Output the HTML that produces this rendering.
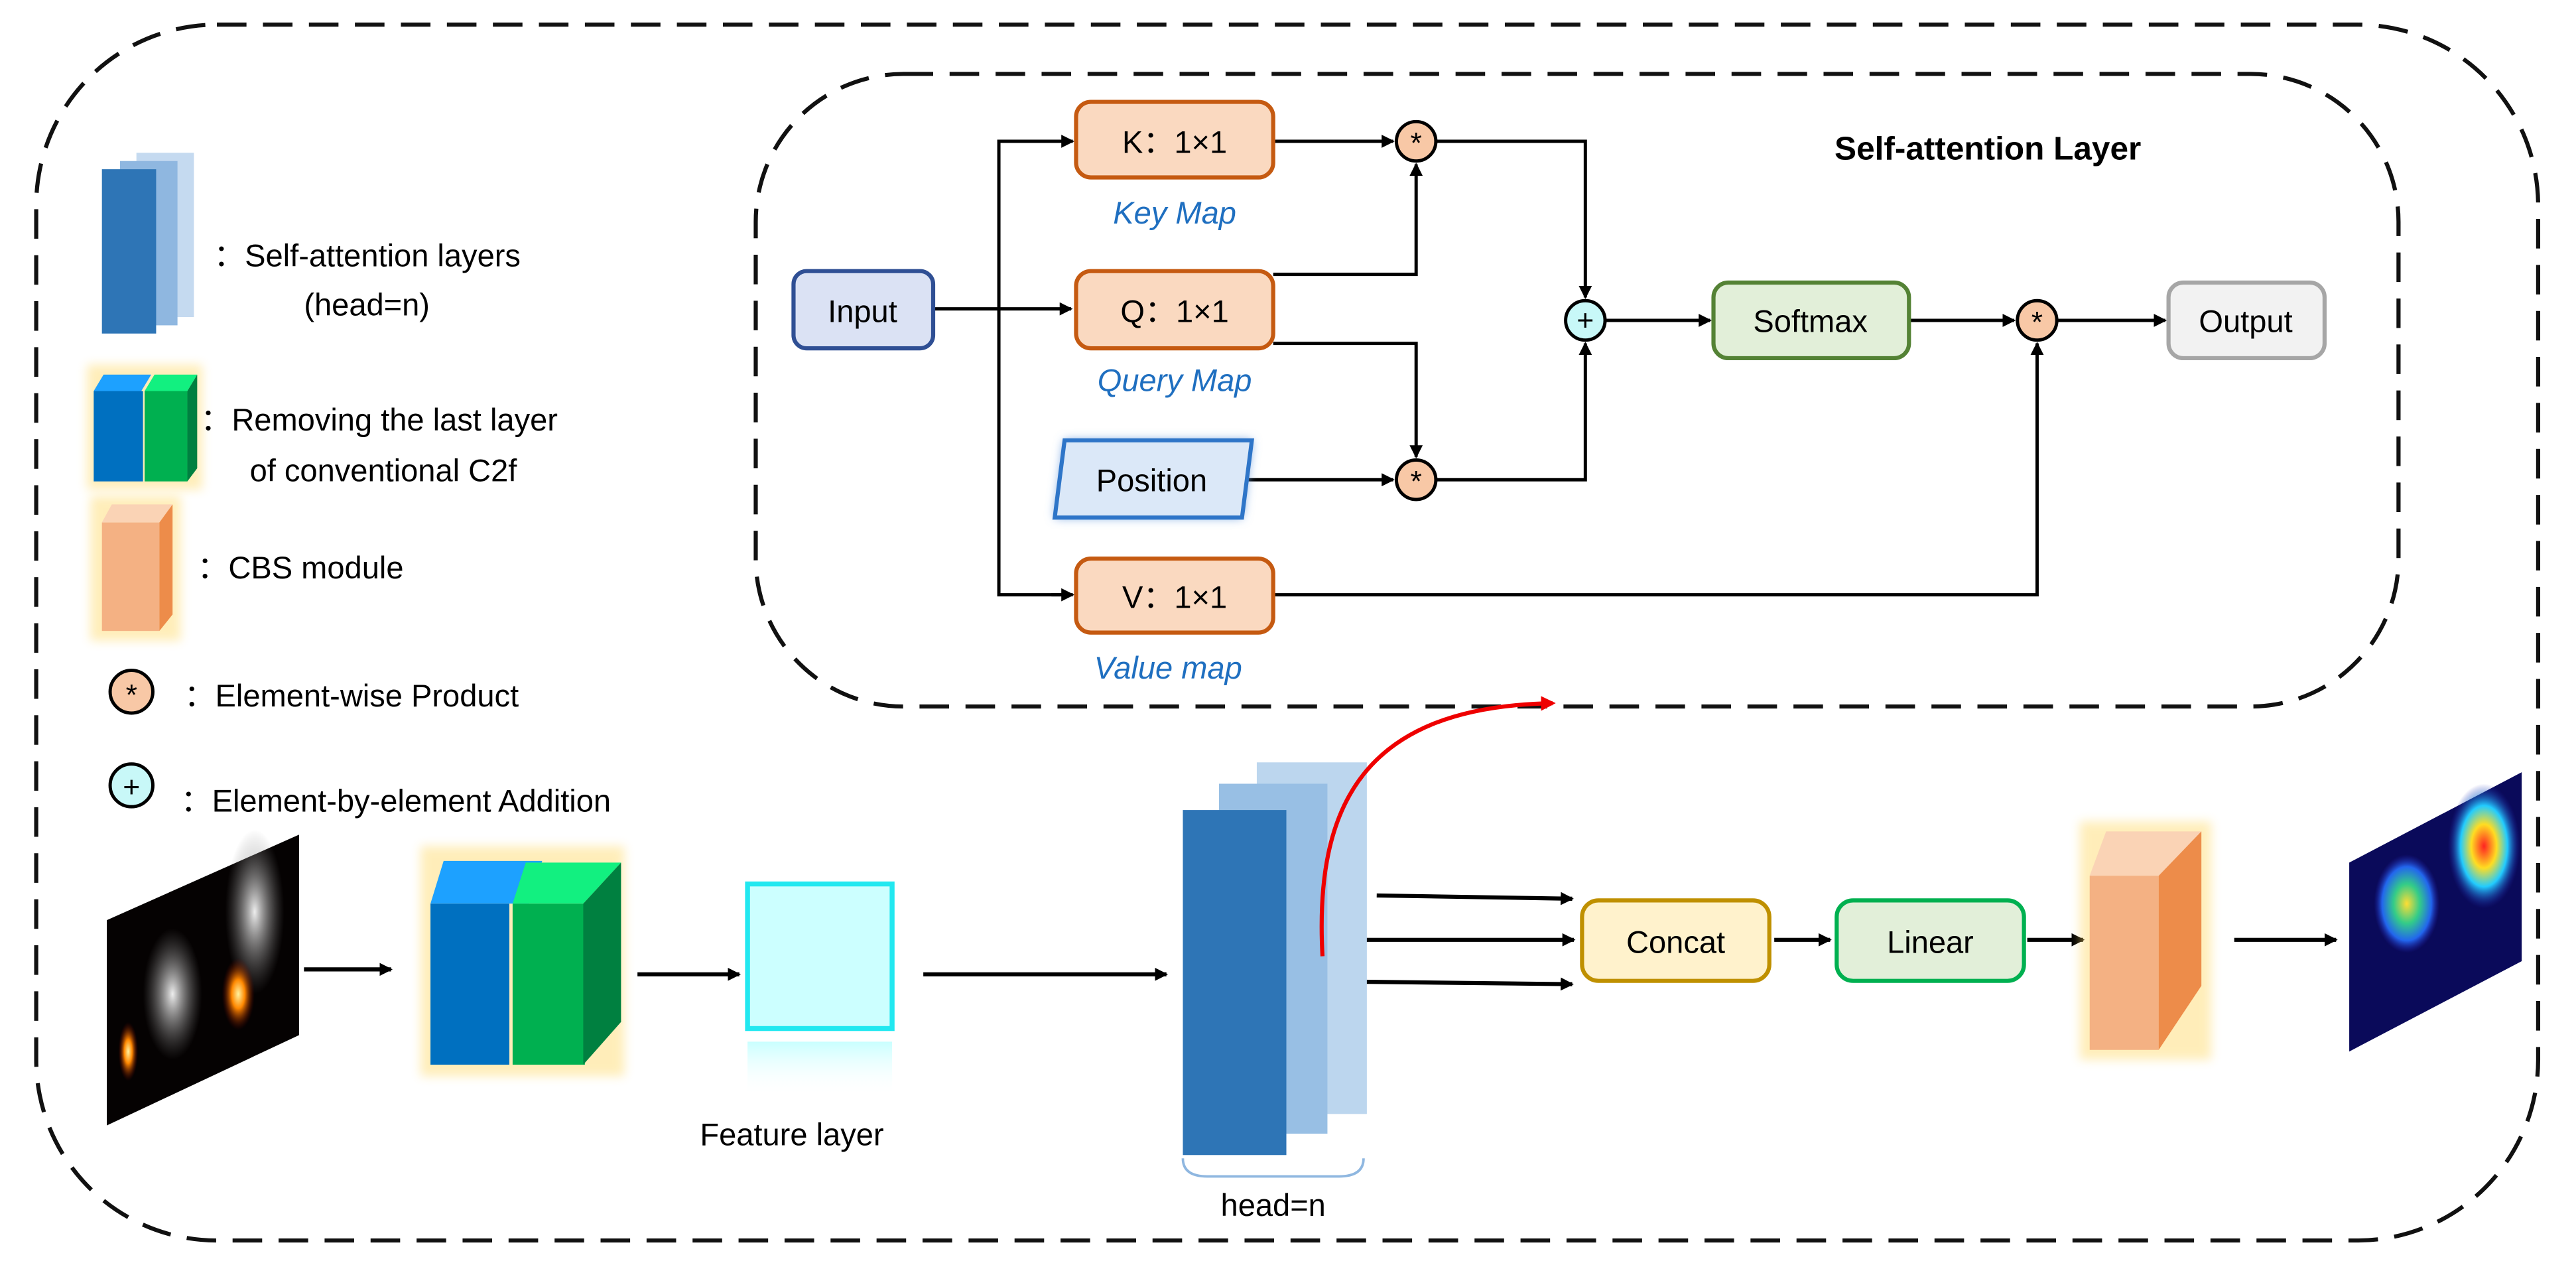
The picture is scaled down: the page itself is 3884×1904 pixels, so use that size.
<!DOCTYPE html>
<html><head><meta charset="utf-8"><style>html,body{margin:0;padding:0;background:#fff}svg{display:block}text{font-family:"Liberation Sans",Arial,sans-serif}</style></head>
<body>
<svg width="3884" height="1904" viewBox="0 0 1568 768.7" xmlns="http://www.w3.org/2000/svg">
<defs>
<marker id="a" markerWidth="8" markerHeight="8" refX="7" refY="4" orient="auto" markerUnits="userSpaceOnUse"><path d="M0,0 L8,4 L0,8 Z" fill="#000"/></marker>
<marker id="r" markerWidth="9" markerHeight="9" refX="7" refY="4.5" orient="auto" markerUnits="userSpaceOnUse"><path d="M0,0 L9,4.5 L0,9 Z" fill="#e00"/></marker>
<filter id="g" x="-30%" y="-30%" width="160%" height="160%"><feGaussianBlur stdDeviation="3"/></filter>
<linearGradient id="refl" x1="0" y1="0" x2="0" y2="1"><stop offset="0" stop-color="#bff" stop-opacity="0.8"/><stop offset="1" stop-color="#fff" stop-opacity="0"/></linearGradient>
<radialGradient id="hm1" cx="0.5" cy="0.5" r="0.5"><stop offset="0" stop-color="#f22"/><stop offset="0.35" stop-color="#fd2"/><stop offset="0.65" stop-color="#2cf"/><stop offset="1" stop-color="#22a" stop-opacity="0"/></radialGradient>
<radialGradient id="hm2" cx="0.5" cy="0.5" r="0.5"><stop offset="0" stop-color="#fd3"/><stop offset="0.4" stop-color="#3c8"/><stop offset="0.75" stop-color="#26e"/><stop offset="1" stop-color="#22a" stop-opacity="0"/></radialGradient>
<radialGradient id="smk" cx="0.5" cy="0.5" r="0.5"><stop offset="0" stop-color="#eee"/><stop offset="1" stop-color="#777" stop-opacity="0"/></radialGradient>
<radialGradient id="fir" cx="0.5" cy="0.5" r="0.5"><stop offset="0" stop-color="#fff2a0"/><stop offset="0.4" stop-color="#f80"/><stop offset="1" stop-color="#600" stop-opacity="0"/></radialGradient>
</defs>

<rect x="22" y="15" width="1523" height="740" rx="110" fill="none" stroke="#111" stroke-width="2.5" stroke-dasharray="18,10"/>
<rect x="460" y="45" width="1000" height="385" rx="90" fill="none" stroke="#111" stroke-width="2.5" stroke-dasharray="18,10"/>

<text x="1210" y="97" font-size="20" font-weight="bold" text-anchor="middle">Self-attention Layer</text>

<g stroke="#000" stroke-width="2" fill="none">
<line x1="568" y1="188" x2="652" y2="188" marker-end="url(#a)"/>
<polyline points="652,86 608,86 608,362 652,362" />
<line x1="640" y1="86" x2="653" y2="86" marker-end="url(#a)"/>
<line x1="640" y1="362" x2="653" y2="362" marker-end="url(#a)"/>
<line x1="775" y1="86" x2="848" y2="86" marker-end="url(#a)"/>
<polyline points="775,167 862,167 862,100" marker-end="url(#a)"/>
<polyline points="775,209 862,209 862,278" marker-end="url(#a)"/>
<line x1="760" y1="292" x2="848" y2="292" marker-end="url(#a)"/>
<polyline points="874,86 965,86 965,181" marker-end="url(#a)"/>
<polyline points="874,292 965,292 965,209" marker-end="url(#a)"/>
<line x1="977" y1="195" x2="1041" y2="195" marker-end="url(#a)"/>
<line x1="1162" y1="195" x2="1226" y2="195" marker-end="url(#a)"/>
<line x1="1252" y1="195" x2="1318" y2="195" marker-end="url(#a)"/>
<polyline points="775,362 1240,362 1240,209" marker-end="url(#a)"/>
</g>

<rect x="483" y="165" width="85" height="47" rx="8" fill="#dbe2f4" stroke="#2f4f94" stroke-width="2.5"/>
<text x="525" y="196" font-size="19" text-anchor="middle">Input</text>
<g fill="#fad9c0" stroke="#c55a11" stroke-width="2.5">
<rect x="655" y="62" width="120" height="46" rx="9"/>
<rect x="655" y="165" width="120" height="47" rx="9"/>
<rect x="655" y="340" width="120" height="45" rx="9"/>
</g>
<text x="715" y="93" font-size="19" text-anchor="middle">K：1×1</text>
<text x="715" y="196" font-size="19" text-anchor="middle">Q：1×1</text>
<text x="715" y="370" font-size="19" text-anchor="middle">V：1×1</text>
<g font-size="19" font-style="italic" fill="#1f6fc0" text-anchor="middle">
<text x="715" y="136">Key Map</text>
<text x="715" y="238">Query Map</text>
<text x="711" y="413">Value map</text>
</g>
<polygon points="648,268 762,268 756,315 642,315" fill="#6fa0e0" filter="url(#g)"/>
<polygon points="648,268 762,268 756,315 642,315" fill="#dbe8f8" stroke="#2e75c8" stroke-width="2.5"/>
<text x="701" y="299" font-size="19" text-anchor="middle">Position</text>

<g stroke="#000" stroke-width="2">
<circle cx="862" cy="86" r="12" fill="#f8c8a6"/>
<circle cx="862" cy="292" r="12" fill="#f8c8a6"/>
<circle cx="1240" cy="195" r="12" fill="#f8c8a6"/>
<circle cx="965" cy="195" r="12" fill="#c8f8f8"/>
</g>
<g font-size="18" text-anchor="middle"><text x="862" y="93">*</text><text x="862" y="299">*</text><text x="1240" y="202">*</text><text x="965" y="201">+</text></g>

<rect x="1043" y="172" width="119" height="46" rx="9" fill="#e2efd9" stroke="#548235" stroke-width="2.5"/>
<text x="1102" y="202" font-size="19" text-anchor="middle">Softmax</text>
<rect x="1320" y="172" width="95" height="46" rx="9" fill="#f2f2f2" stroke="#a6a6a6" stroke-width="2.5"/>
<text x="1367" y="202" font-size="19" text-anchor="middle">Output</text>

<rect x="83" y="93" width="35" height="100" fill="#c5daf0"/>
<rect x="73" y="98" width="35" height="100" fill="#8fb7e0"/>
<rect x="62" y="103" width="33" height="100" fill="#2e75b6"/>
<text x="130" y="162" font-size="19">：Self-attention layers</text>
<text x="185" y="192" font-size="19">(head=n)</text>

<rect x="53" y="222" width="70" height="76" fill="#ffd966" opacity="0.45" filter="url(#g)"/>
<polygon points="57,238 63,228 92,228 86,238" fill="#1da1ff"/>
<rect x="57" y="238" width="30" height="55" fill="#0070c0"/>
<polygon points="88,238 94,228 120,228 114,238" fill="#12f080"/>
<rect x="88" y="238" width="26" height="55" fill="#00b050"/>
<polygon points="114,238 120,228 120,285 114,293" fill="#008040"/>
<text x="122" y="262" font-size="19">：Removing the last layer</text>
<text x="152" y="293" font-size="19">of conventional C2f</text>

<rect x="55" y="302" width="55" height="88" fill="#ffd966" opacity="0.45" filter="url(#g)"/>
<polygon points="62,318 68,307 105,307 97,318" fill="#fad3b5"/>
<rect x="62" y="318" width="35" height="66" fill="#f4b183"/>
<polygon points="97,318 105,307 105,374 97,384" fill="#ed8c4a"/>
<text x="120" y="352" font-size="19">：CBS module</text>

<circle cx="80" cy="421" r="13" fill="#f8c8a6" stroke="#000" stroke-width="2"/>
<text x="80" y="429" font-size="18" text-anchor="middle">*</text>
<text x="112" y="430" font-size="19">：Element-wise Product</text>
<circle cx="80" cy="478" r="13" fill="#c8f8f8" stroke="#000" stroke-width="2"/>
<text x="80" y="485" font-size="18" text-anchor="middle">+</text>
<text x="110" y="494" font-size="19">：Element-by-element Addition</text>

<polygon points="65,560 182,508 182,630 65,685" fill="#050202"/>
<ellipse cx="155" cy="555" rx="18" ry="50" fill="url(#smk)"/>
<ellipse cx="105" cy="605" rx="18" ry="40" fill="url(#smk)"/>
<ellipse cx="145" cy="605" rx="10" ry="22" fill="url(#fir)"/>
<ellipse cx="78" cy="640" rx="6" ry="18" fill="url(#fir)"/>
<g stroke="#000" stroke-width="2.5">
<line x1="185" y1="590" x2="238" y2="590" marker-end="url(#a)"/>
<line x1="388" y1="593" x2="450" y2="593" marker-end="url(#a)"/>
<line x1="562" y1="593" x2="710" y2="593" marker-end="url(#a)"/>
<line x1="838" y1="545" x2="957" y2="547" marker-end="url(#a)"/>
<line x1="800" y1="572" x2="958" y2="572" marker-end="url(#a)"/>
<line x1="783" y1="597" x2="957" y2="599" marker-end="url(#a)"/>
<line x1="1080" y1="572" x2="1114" y2="572" marker-end="url(#a)"/>
<line x1="1234" y1="572" x2="1268" y2="572" marker-end="url(#a)"/>
<line x1="1360" y1="572" x2="1422" y2="572" marker-end="url(#a)"/>
</g>

<rect x="256" y="515" width="124" height="140" fill="#ffd966" opacity="0.45" filter="url(#g)"/>
<polygon points="262,550 270,524 330,524 322,550" fill="#1da1ff"/>
<rect x="262" y="550" width="48" height="98" fill="#0070c0"/>
<polygon points="312,550 320,525 378,525 355,550" fill="#12f080"/>
<rect x="312" y="550" width="44" height="98" fill="#00b050"/>
<polygon points="355,550 378,525 378,622 355,648" fill="#008040"/>

<rect x="455" y="538" width="88" height="88" fill="#ccffff" stroke="#22e8f0" stroke-width="3"/>
<rect x="455" y="634" width="88" height="33" fill="url(#refl)"/>
<text x="482" y="697" font-size="19" text-anchor="middle">Feature layer</text>

<rect x="765" y="464" width="67" height="214" fill="#bcd6ee"/>
<rect x="742" y="477" width="66" height="213" fill="#98bfe4"/>
<rect x="720" y="493" width="63" height="210" fill="#2e75b6"/>
<path d="M720,705 Q720,716 735,716 L815,716 Q830,716 830,705" fill="none" stroke="#8fb7e0" stroke-width="1.5"/>
<text x="775" y="740" font-size="19" text-anchor="middle">head=n</text>

<path d="M805,582 C800,490 830,430 945,428" fill="none" stroke="#e00" stroke-width="2.5" marker-end="url(#r)"/>

<rect x="963" y="548" width="114" height="49" rx="10" fill="#fff2cc" stroke="#bf9000" stroke-width="2.5"/>
<text x="1020" y="580" font-size="19" text-anchor="middle">Concat</text>
<rect x="1118" y="548" width="114" height="49" rx="10" fill="#e2efd9" stroke="#00b050" stroke-width="2.5"/>
<text x="1175" y="580" font-size="19" text-anchor="middle">Linear</text>

<rect x="1266" y="500" width="80" height="145" fill="#ffd966" opacity="0.45" filter="url(#g)"/>
<polygon points="1272,533 1282,506 1340,506 1330,533" fill="#fad3b5"/>
<rect x="1272" y="533" width="42" height="106" fill="#f4b183"/>
<polygon points="1314,533 1340,506 1340,600 1314,639" fill="#ed8c4a"/>

<polygon points="1430,525 1535,470 1535,585 1430,640" fill="#0a0a5a"/>
<ellipse cx="1512" cy="515" rx="22" ry="38" fill="url(#hm1)"/>
<ellipse cx="1465" cy="550" rx="20" ry="30" fill="url(#hm2)"/>
</svg>
</body></html>
